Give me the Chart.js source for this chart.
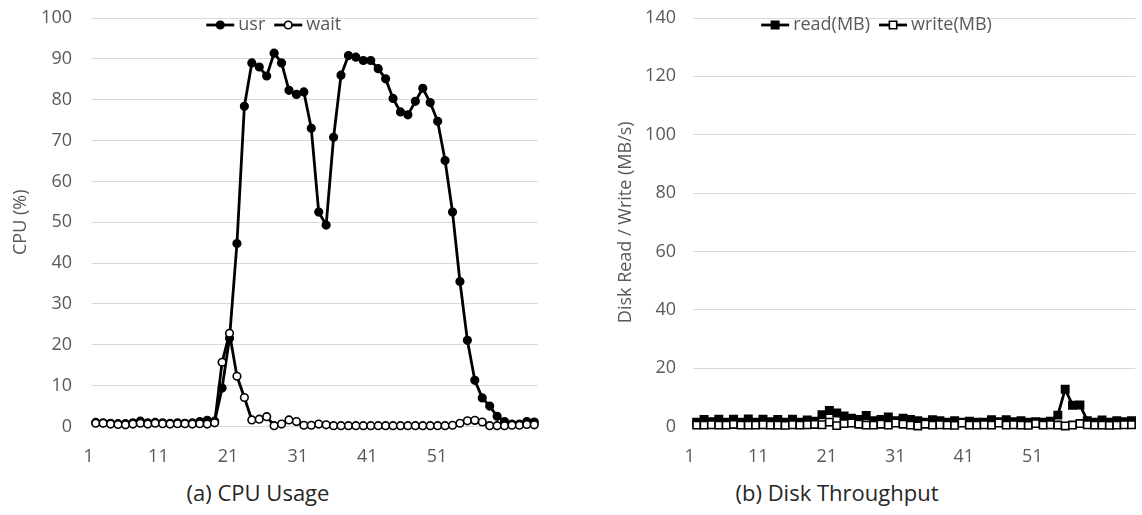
<!DOCTYPE html>
<html>
<head>
<meta charset="utf-8">
<script src="https://cdn.jsdelivr.net/npm/chart.js@4.4.1/dist/chart.umd.min.js"></script>
<style>
  body { margin: 0; background: #fff; width: 1142px; height: 515px; position: relative; overflow: hidden; font-family: 'Open Sans', sans-serif; }
  .box { position: absolute; top: 0; }
  .cap { position: absolute; top: 477px; font-size: 22px; color: #262626; transform: translateX(-50%); white-space: nowrap; }
</style>
</head>
<body>
<div class="box" style="left:0"><canvas id="cpu" width="560" height="475"></canvas></div>
<div class="box" style="left:580px"><canvas id="disk" width="562" height="475"></canvas></div>
<div class="cap" style="left:258px">(a) CPU Usage</div>
<div class="cap" style="left:837px">(b) Disk Throughput</div>

<script>
// sample index (seconds)
const timeSteps = [
  1, 2, 3, 4, 5, 6, 7, 8, 9, 10, 11, 12, 13, 14, 15, 16, 17, 18, 19, 20,
  21, 22, 23, 24, 25, 26, 27, 28, 29, 30, 31, 32, 33, 34, 35, 36, 37, 38, 39, 40,
  41, 42, 43, 44, 45, 46, 47, 48, 49, 50, 51, 52, 53, 54, 55, 56, 57, 58, 59, 60
];
const xTickLabels = [1, 11, 21, 31, 41, 51];

// CPU usage (%)
const usr = [
  1.0, 0.9, 0.8, 0.7, 0.7, 0.9, 1.3, 0.9, 1.0, 0.9, 0.8, 0.9, 0.8, 0.9, 1.2, 1.5, 1.3, 9.4, 21.6, 44.8,
  78.4, 89.0, 88.0, 85.8, 91.4, 89.0, 82.3, 81.3, 81.9, 73.0, 52.5, 49.3, 70.8, 86.0, 90.8, 90.4, 89.6, 89.6, 87.6, 85.1,
  80.3, 77.0, 76.3, 79.6, 82.8, 79.3, 74.7, 65.1, 52.5, 35.5, 21.1, 11.3, 7.0, 5.0, 2.5, 1.2, 0.6, 0.6, 1.2, 1.1
];
const wait = [
  0.8, 0.8, 0.6, 0.5, 0.4, 0.6, 0.8, 0.6, 0.8, 0.7, 0.6, 0.7, 0.7, 0.6, 0.7, 0.6, 0.9, 15.7, 22.8, 12.3,
  7.1, 1.6, 1.8, 2.4, 0.2, 0.6, 1.6, 1.2, 0.3, 0.3, 0.6, 0.4, 0.2, 0.2, 0.2, 0.2, 0.2, 0.2, 0.2, 0.2,
  0.2, 0.2, 0.2, 0.2, 0.2, 0.2, 0.2, 0.2, 0.3, 0.8, 1.4, 1.5, 1.1, 0.2, 0.2, 0.2, 0.3, 0.3, 0.5, 0.4
];

// disk throughput (MB/s)
const readMB = [
  1.5, 2.4, 1.6, 2.5, 1.5, 2.5, 1.5, 2.6, 1.5, 2.5, 1.6, 2.4, 1.5, 2.5, 1.5, 2.2, 1.8, 4.0, 5.5, 4.6,
  3.6, 2.8, 2.4, 3.8, 2.0, 2.4, 3.3, 2.0, 2.8, 2.4, 2.0, 1.5, 2.3, 2.0, 1.5, 2.0, 1.5, 1.8, 1.5, 1.5,
  2.3, 1.6, 2.3, 1.6, 2.0, 1.5, 1.6, 1.5, 1.8, 3.9, 12.8, 7.3, 7.4, 2.0, 1.5, 2.2, 1.5, 2.0, 1.6, 2.0
];
const writeMB = [
  0.5, 0.5, 0.6, 0.5, 0.5, 0.7, 0.5, 0.5, 0.5, 0.6, 0.5, 0.5, 0.4, 0.6, 0.5, 0.6, 0.7, 0.6, 1.5, 0.3,
  1.0, 1.2, 0.8, 0.5, 0.5, 0.8, 0.5, 1.2, 0.8, 0.5, 0.2, 0.8, 0.5, 0.6, 0.5, 0.4, 1.2, 0.5, 0.5, 0.6,
  0.5, 1.2, 0.5, 0.6, 0.5, 0.4, 1.0, 0.5, 0.6, 0.5, 0.2, 0.5, 1.0, 0.6, 0.5, 0.5, 0.4, 0.5, 0.6, 0.6
];

const GRAY = '#595959';
const FONT = 'Open Sans';

// legend drawn as line + marker, like the office chart
const lineLegend = {
  id: 'lineLegend',
  afterDraw(chart, args, opts) {
    const ctx = chart.ctx;
    const sets = chart.data.datasets;
    ctx.save();
    ctx.font = `18px "${FONT}"`;
    const sym = 28, gapText = 4, gapItem = 9;
    const widths = sets.map(ds => sym + gapText + ctx.measureText(ds.label).width);
    const total = widths.reduce((a, b) => a + b, 0) + gapItem * (sets.length - 1);
    let x = opts.centerX - total / 2;
    sets.forEach((ds, i) => {
      ctx.strokeStyle = ds.borderColor;
      ctx.lineWidth = ds.borderWidth;
      ctx.beginPath();
      ctx.moveTo(x, opts.y);
      ctx.lineTo(x + sym, opts.y);
      ctx.stroke();
      ctx.fillStyle = ds.pointBackgroundColor;
      ctx.strokeStyle = ds.pointBorderColor;
      ctx.lineWidth = ds.pointBorderWidth;
      Chart.helpers.drawPoint(ctx, { pointStyle: ds.pointStyle, radius: ds.pointRadius, borderWidth: ds.pointBorderWidth, rotation: 0 }, x + sym / 2, opts.y);
      ctx.fillStyle = GRAY;
      ctx.textAlign = 'left';
      ctx.textBaseline = 'middle';
      ctx.fillText(ds.label, x + sym + gapText, opts.y);
      x += widths[i] + gapItem;
    });
    ctx.restore();
  }
};

function series(label, values, style, filled, radius, order) {
  return {
    label,
    data: values.map((v, i) => ({ x: timeSteps[i], y: v })),
    borderColor: '#000',
    borderWidth: 2.8,
    borderJoinStyle: 'round',
    pointStyle: style,
    pointRadius: radius,
    pointBorderWidth: 1.6,
    pointBackgroundColor: filled ? '#000' : '#fff',
    pointBorderColor: '#000',
    tension: 0,
    clip: false,
    order
  };
}

function makeChart(id, datasets, cfg) {
  return new Chart(document.getElementById(id), {
    type: 'line',
    data: { datasets },
    plugins: [lineLegend],
    options: {
      responsive: false,
      animation: false,
      layout: { padding: { left: cfg.padLeft, top: 18, right: cfg.padRight, bottom: 0 } },
      plugins: {
        legend: { display: false },
        tooltip: { enabled: false },
        lineLegend: { centerX: cfg.legendX, y: 25 }
      },
      scales: {
        x: { type: 'linear', min: 0.5, max: 60.5, display: false },
        xl: {
          type: 'linear',
          position: 'bottom',
          min: cfg.labelMin,
          max: cfg.labelMax,
          grid: { display: false, drawTicks: false },
          border: { display: false },
          afterBuildTicks: s => { s.ticks = xTickLabels.map(v => ({ value: v })); },
          afterFit: s => { s.height = 48.5; s.paddingLeft = 0; s.paddingRight = 0; },
          ticks: { autoSkip: false, maxRotation: 0, padding: 20, color: GRAY, font: { family: FONT, size: 18 } }
        },
        y: {
          min: 0,
          max: cfg.yMax,
          grid: { color: '#d9d9d9', drawTicks: false, lineWidth: 1 },
          border: { display: false },
          // fixed width, and no extra room above the top label
          afterFit: s => { s.width = cfg.yWidth; s.paddingTop = 0; s.paddingBottom = 0; },
          ticks: { stepSize: cfg.yStep, padding: cfg.tickPad, color: GRAY, font: { family: FONT, size: 18 } },
          title: { display: true, text: cfg.yTitle, color: GRAY, padding: { top: 10, bottom: 0 }, font: { family: FONT, size: 18 } }
        }
      }
    }
  });
}

makeChart('cpu', [
  series('usr', usr, 'circle', true, 3.8, 1),
  series('wait', wait, 'circle', false, 3.8, 0)
], { padLeft: 0, padRight: 22, yWidth: 92, tickPad: 20, yMax: 100, yStep: 10, yTitle: 'CPU (%)',
     labelMin: 1.47, labelMax: 65.5, legendX: 273.7 });

makeChart('disk', [
  series('read(MB)', readMB, 'rect', true, 5.2, 1),
  series('write(MB)', writeMB, 'rect', false, 5.2, 0)
], { padLeft: 25, padRight: 2, yWidth: 88, tickPad: 17, yMax: 140, yStep: 20, yTitle: 'Disk Read / Write (MB/s)',
     labelMin: 1.48, labelMax: 66.0, legendX: 296.5 });
</script>
</body>
</html>
